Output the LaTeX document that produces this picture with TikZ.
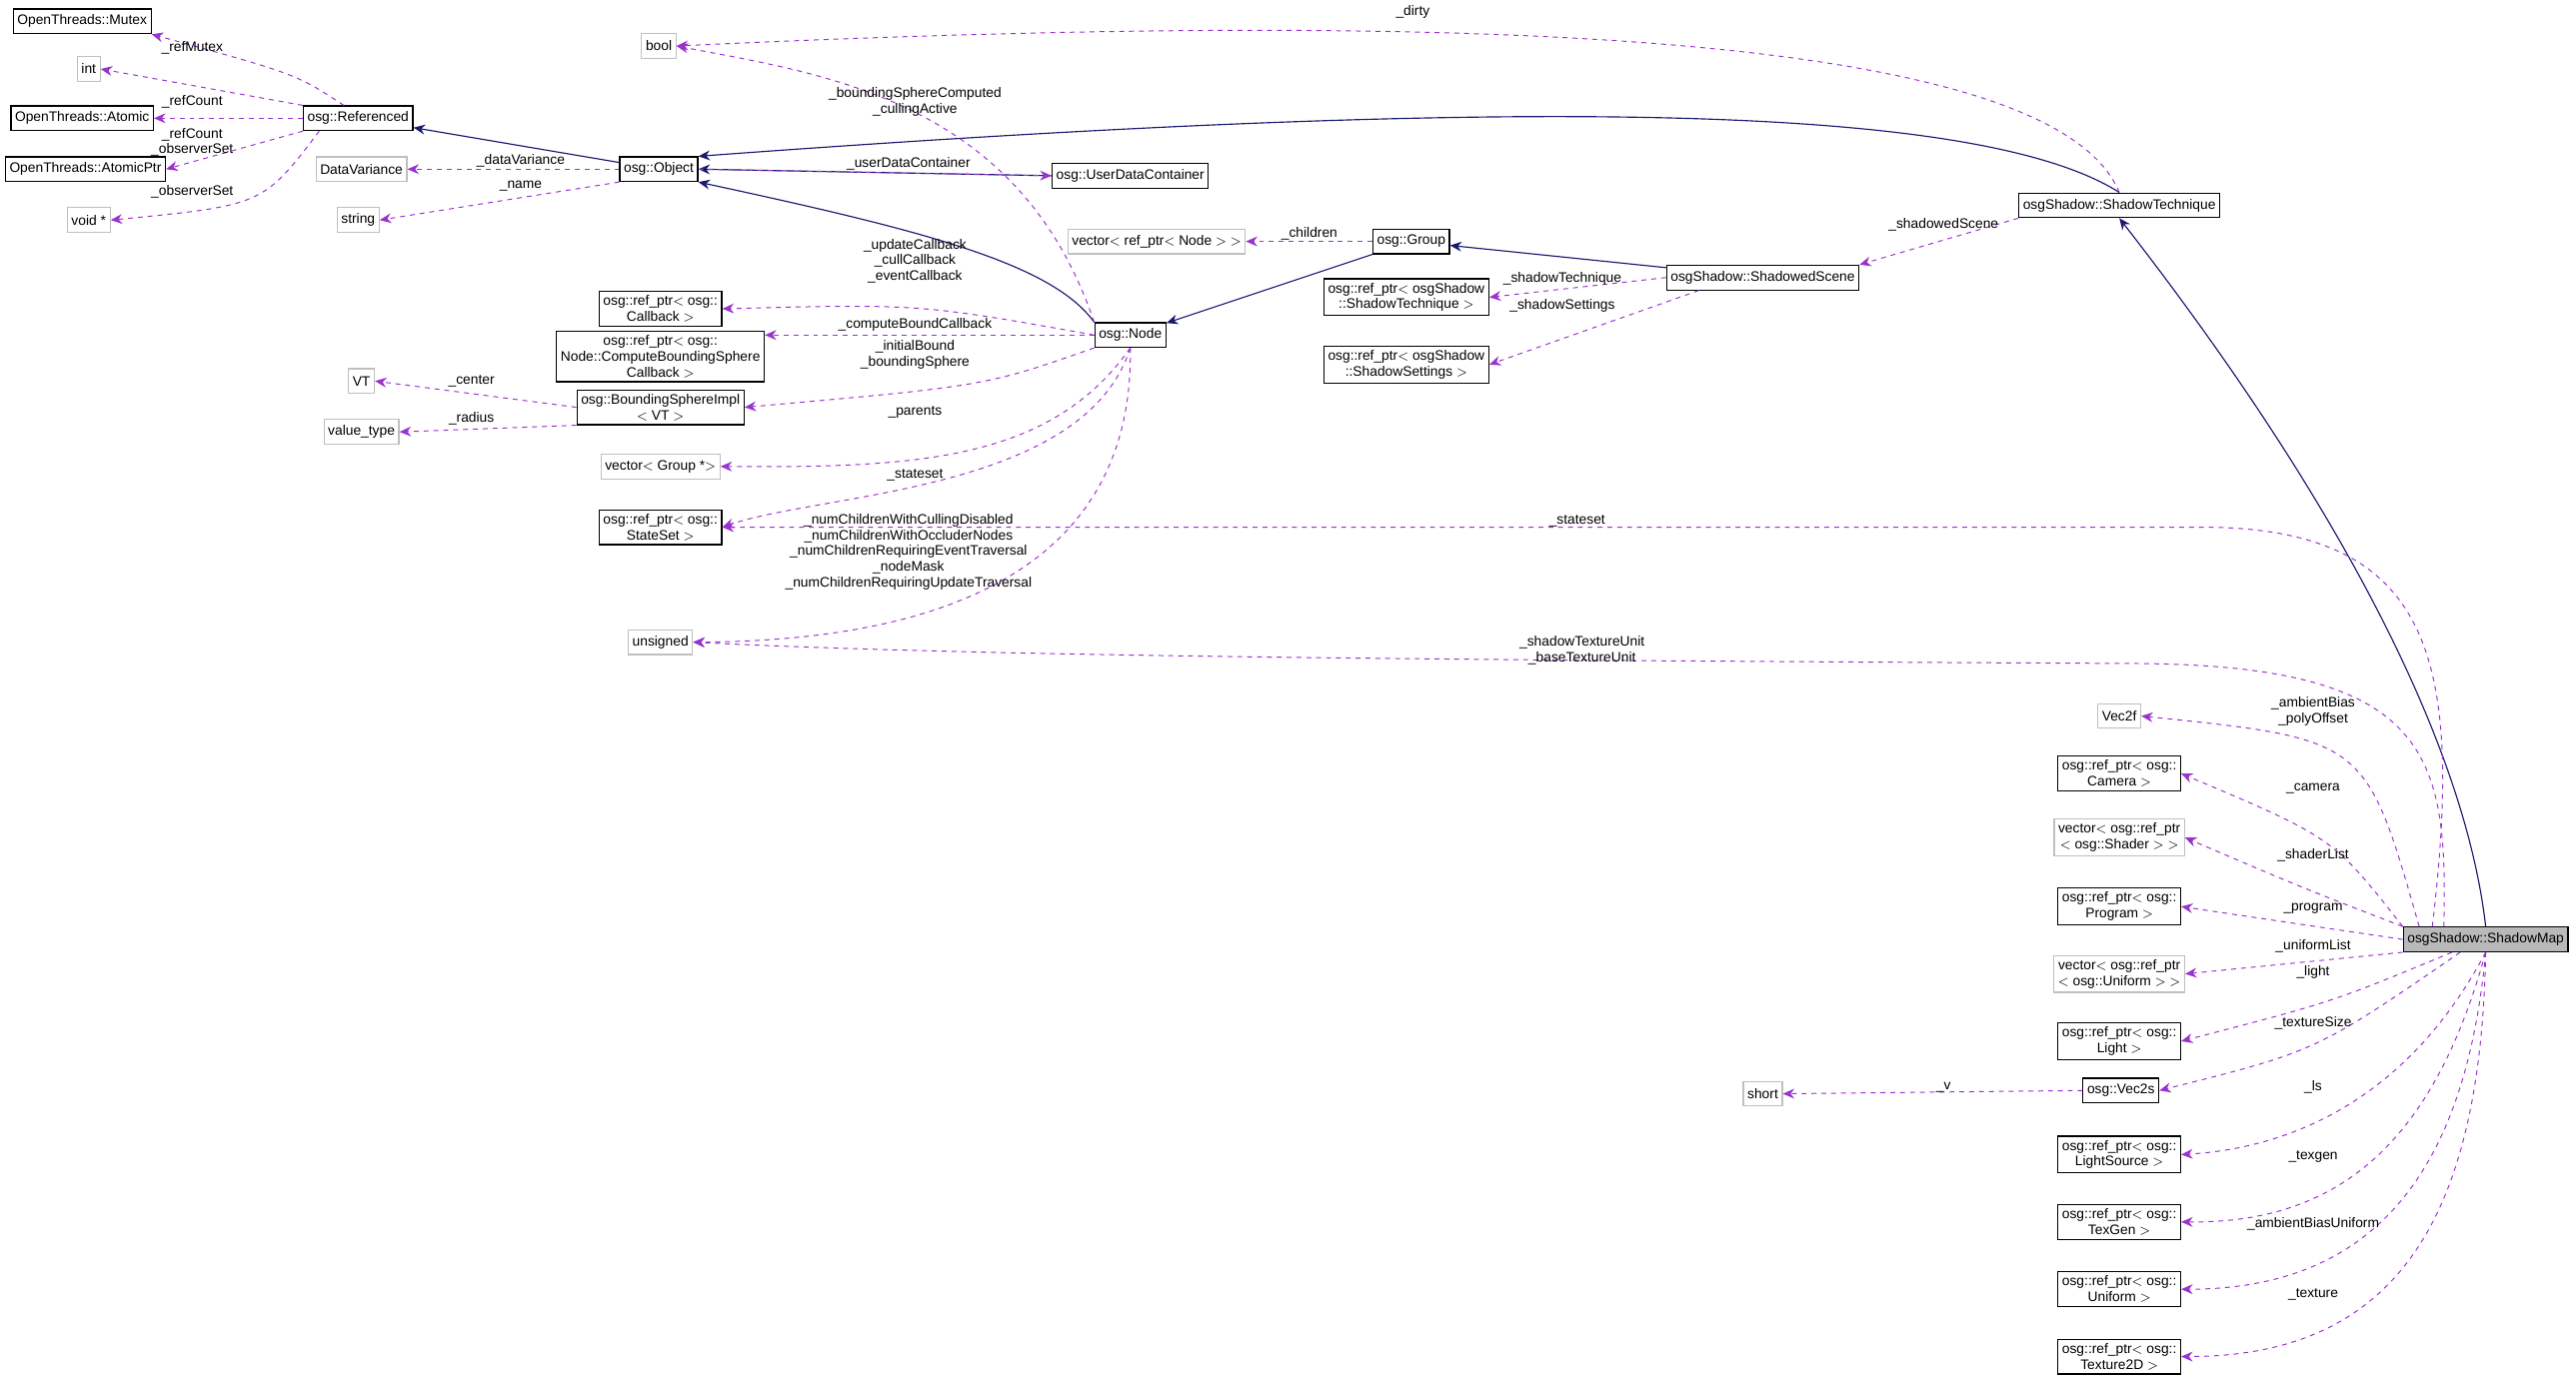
\documentclass[tikz,border=0pt]{standalone}
\usepackage{fontspec}
\setmainfont{Liberation Sans}
\usetikzlibrary{arrows.meta}
\definecolor{purp}{HTML}{9A32CD}
\definecolor{navy}{HTML}{191970}
\begin{document}
\begin{tikzpicture}[x=1pt,y=-1pt,
  every node/.style={font=\fontsize{8.4}{9.6}\selectfont,align=center},
  cls/.style={draw=black,line width=0.7pt,inner sep=2.5pt,minimum height=15pt,fill=white},
  ext/.style={draw=gray!50,line width=0.7pt,inner sep=2.5pt,minimum height=15pt,fill=white},
  uses/.style={draw=purp,dashed,line width=0.6pt,-{Stealth[length=7pt,width=6pt]}},
  inh/.style={draw=navy,line width=0.7pt,-{Stealth[length=7pt,width=6pt]}},
  lbl/.style={inner sep=0.5pt}]
\useasboundingbox (0,0) rectangle (1568,838);
% left column
\node[cls] (mutex) at (50,13) {OpenThreads::Mutex};
\node[ext] (int) at (54,42) {int};
\node[cls] (atomic) at (50,72) {OpenThreads::Atomic};
\node[cls] (atomicptr) at (52,103) {OpenThreads::AtomicPtr};
\node[ext] (voidp) at (54,134) {void *};
\node[cls] (ref) at (218,72) {osg::Referenced};
\node[ext] (dv) at (220,103) {DataVariance};
\node[ext] (string) at (218,134) {string};
\node[ext] (vt) at (220,232) {VT};
\node[ext] (vtype) at (220,263) {value\_type};
\node[cls] (object) at (401,103) {osg::Object};
\node[ext] (bool) at (401,28) {bool};
\node[cls] (cb) at (402,188) {osg::ref\_ptr$<$ osg::\\Callback $>$};
\node[cls] (cbs) at (402,217) {osg::ref\_ptr$<$ osg::\\Node::ComputeBoundingSphere\\Callback $>$};
\node[cls] (bsi) at (402,248) {osg::BoundingSphereImpl\\$<$ VT $>$};
\node[ext] (vgroup) at (402,284) {vector$<$ Group *$>$};
\node[cls] (ss) at (402,321) {osg::ref\_ptr$<$ osg::\\StateSet $>$};
\node[ext] (uns) at (402,391) {unsigned};
% middle
\node[cls] (udc) at (688,107) {osg::UserDataContainer};
\node[ext] (vnode) at (704,147) {vector$<$ ref\_ptr$<$ Node $>$ $>$};
\node[cls] (node) at (688,204) {osg::Node};
\node[cls] (group) at (859,147) {osg::Group};
\node[cls] (stref) at (856,181) {osg::ref\_ptr$<$ osgShadow\\::ShadowTechnique $>$};
\node[cls] (ssref) at (856,222) {osg::ref\_ptr$<$ osgShadow\\::ShadowSettings $>$};
\node[cls] (scene) at (1073,169) {osgShadow::ShadowedScene};
\node[cls] (tech) at (1290,125) {osgShadow::ShadowTechnique};
\node[ext] (short) at (1073,666) {short};
% right column
\node[cls,fill=gray!55] (sm) at (1513,572) {osgShadow::ShadowMap};
\node[ext] (vec2f) at (1290,436) {Vec2f};
\node[cls] (cam) at (1290,471) {osg::ref\_ptr$<$ osg::\\Camera $>$};
\node[ext] (shader) at (1290,510) {vector$<$ osg::ref\_ptr\\$<$ osg::Shader $>$ $>$};
\node[cls] (prog) at (1290,552) {osg::ref\_ptr$<$ osg::\\Program $>$};
\node[ext] (unil) at (1290,593) {vector$<$ osg::ref\_ptr\\$<$ osg::Uniform $>$ $>$};
\node[cls] (light) at (1290,634) {osg::ref\_ptr$<$ osg::\\Light $>$};
\node[cls] (vec2s) at (1291,664) {osg::Vec2s};
\node[cls] (ls) at (1290,703) {osg::ref\_ptr$<$ osg::\\LightSource $>$};
\node[cls] (texgen) at (1290,744) {osg::ref\_ptr$<$ osg::\\TexGen $>$};
\node[cls] (uni) at (1290,785) {osg::ref\_ptr$<$ osg::\\Uniform $>$};
\node[cls] (tex) at (1290,826) {osg::ref\_ptr$<$ osg::\\Texture2D $>$};

% inheritance
\draw[inh] (object) -- (ref);
\draw[inh] (node.north west) .. controls (640,160) and (560,140) .. (object.south east);
\draw[inh] (tech.north) .. controls (1200,60) and (900,60) .. (object.north east);
\draw[inh] (udc.west) -- (object.east);
\draw[inh] (group) -- (node);
\draw[inh] (scene) -- (group);
\draw[inh] (sm.north) .. controls (1500,450) and (1420,300) .. (tech.south);

% Referenced members
\draw[uses] (ref.north west) ++(25,0) .. controls (180,45) .. (mutex.south east);
\draw[uses] (ref.north west) -- (int.east);
\draw[uses] (ref.west) -- (atomic.east);
\draw[uses] (ref.south west) -- (atomicptr.east);
\draw[uses] (ref.south west) ++(10,0) .. controls (160,125) .. (voidp.east);
\node[lbl] at (117,29) {\_refMutex};
\node[lbl] at (117,62) {\_refCount};
\node[lbl] at (117,82) {\_refCount};
\node[lbl] at (117,91) {\_observerSet};
\node[lbl] at (117,117) {\_observerSet};
% Object members
\draw[uses] (object.west) -- (dv.east);
\draw[uses] (object.south west) -- (string.east);
\draw[uses] (object.east) -- (udc.west);
\node[lbl] at (317,98) {\_dataVariance};
\node[lbl] at (317,113) {\_name};
\node[lbl] at (553,100) {\_userDataContainer};
% Node members
\draw[uses] (node.north west) .. controls (620,60) and (500,45) .. (bool.east);
\draw[uses] (node.west) .. controls (560,185) .. (cb.east);
\draw[uses] (node.west) -- (cbs.east |- node.west);
\draw[uses] (node.south west) .. controls (600,235) .. (bsi.east);
\draw[uses] (node.south) .. controls (640,280) and (560,285) .. (vgroup.east);
\draw[uses] (node.south) .. controls (660,300) and (500,300) .. (ss.east);
\draw[uses] (node.south) .. controls (690,330) and (600,390) .. (uns.east);
\node[lbl] at (557,62) {\_boundingSphereComputed\\\_cullingActive};
\node[lbl] at (557,159) {\_updateCallback\\\_cullCallback\\\_eventCallback};
\node[lbl] at (557,198) {\_computeBoundCallback};
\node[lbl] at (557,216) {\_initialBound\\\_boundingSphere};
\node[lbl] at (557,251) {\_parents};
\node[lbl] at (557,289) {\_stateset};
\node[lbl] at (553,336) {\_numChildrenWithCullingDisabled\\\_numChildrenWithOccluderNodes\\\_numChildrenRequiringEventTraversal\\\_nodeMask\\\_numChildrenRequiringUpdateTraversal};
% BSImpl
\draw[uses] (bsi.west) -- (vt.east);
\draw[uses] (bsi.south west) -- (vtype.east);
\node[lbl] at (287,232) {\_center};
\node[lbl] at (287,255) {\_radius};
% Group / scene
\draw[uses] (group.west) -- (vnode.east);
\draw[uses] (scene.west) -- (stref.east);
\draw[uses] (scene.south west) ++(20,0) -- (ssref.east);
\draw[uses] (tech.north) .. controls (1250,20) and (900,5) .. (bool.east);
\draw[uses] (tech.south west) -- (scene.north east);
\node[lbl] at (797,142) {\_children};
\node[lbl] at (951,170) {\_shadowTechnique};
\node[lbl] at (951,186) {\_shadowSettings};
\node[lbl] at (860,7) {\_dirty};
\node[lbl] at (1183,137) {\_shadowedScene};
% ShadowMap members
\draw[uses] (sm.north west) ++(18,0) .. controls (1500,400) and (1480,321) .. (1340,321) -- (ss.east);
\draw[uses] (sm.north west) ++(25,0) .. controls (1490,460) and (1480,405) .. (1300,404) .. controls (900,402) and (600,400) .. (uns.east);
\draw[uses] (sm.north west) ++(10,0) .. controls (1440,450) .. (vec2f.east);
\draw[uses] (sm.north west) .. controls (1420,510) .. (cam.east);
\draw[uses] (sm.north west) .. controls (1400,540) .. (shader.east);
\draw[uses] (sm.west) -- (prog.east);
\draw[uses] (sm.south west) -- (unil.east);
\draw[uses] (sm.south west) ++(30,0) .. controls (1420,610) .. (light.east);
\draw[uses] (sm.south west) ++(35,0) .. controls (1410,640) .. (vec2s.east);
\draw[uses] (sm.south) .. controls (1460,680) and (1380,700) .. (ls.east);
\draw[uses] (sm.south) .. controls (1480,700) and (1420,745) .. (texgen.east);
\draw[uses] (sm.south) .. controls (1500,720) and (1440,785) .. (uni.east);
\draw[uses] (sm.south) .. controls (1510,740) and (1460,826) .. (tex.east);
\draw[uses] (vec2s.west) -- (short.east);
\node[lbl] at (960,317) {\_stateset};
\node[lbl] at (963,396) {\_shadowTextureUnit\\\_baseTextureUnit};
\node[lbl] at (1408,433) {\_ambientBias\\\_polyOffset};
\node[lbl] at (1408,480) {\_camera};
\node[lbl] at (1408,521) {\_shaderList};
\node[lbl] at (1408,553) {\_program};
\node[lbl] at (1408,576) {\_uniformList};
\node[lbl] at (1408,592) {\_light};
\node[lbl] at (1408,623) {\_textureSize};
\node[lbl] at (1408,662) {\_ls};
\node[lbl] at (1408,704) {\_texgen};
\node[lbl] at (1408,745) {\_ambientBiasUniform};
\node[lbl] at (1408,788) {\_texture};
\node[lbl] at (1183,662) {\_v};
\end{tikzpicture}
\end{document}
